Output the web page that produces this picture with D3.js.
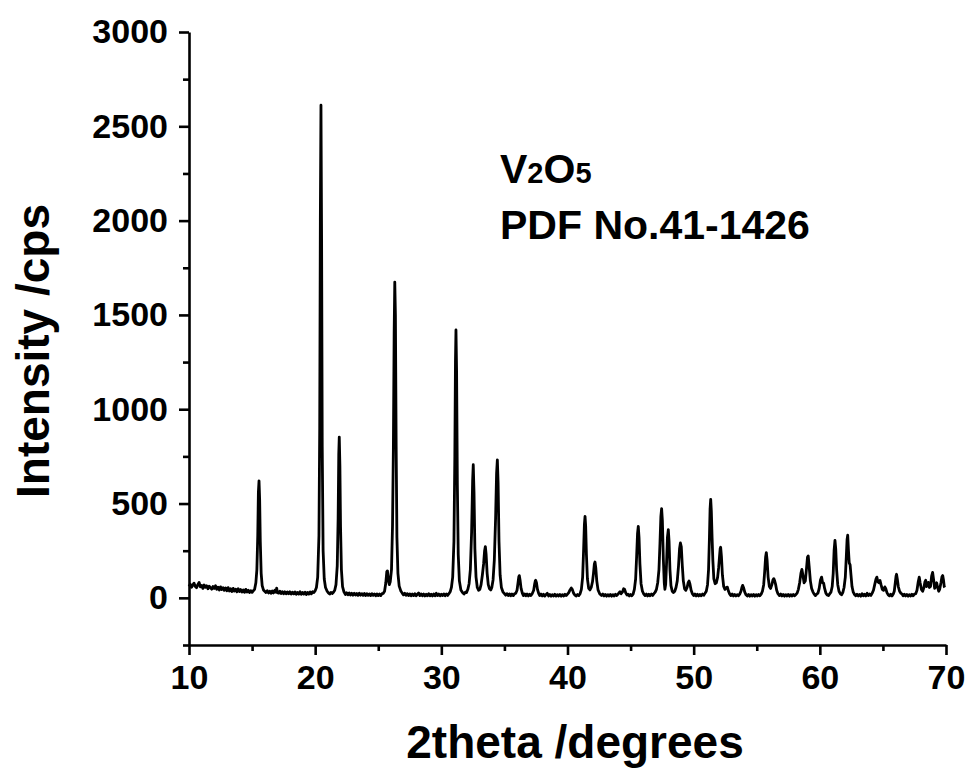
<!DOCTYPE html>
<html>
<head>
<meta charset="utf-8">
<script src="https://cdn.jsdelivr.net/npm/d3@7"></script>
<style>
  body { margin: 0; background: #fff; }
  svg { display: block; }
  text { font-family: "Liberation Sans", Arial, Helvetica, sans-serif; font-weight: bold; fill: #000; }
</style>
</head>
<body>
<svg id="chart" width="966" height="769"></svg>
<script>
// Axis ticks
const xTicks = [10, 20, 30, 40, 50, 60, 70];
const xMinorTicks = [15, 25, 35, 45, 55, 65];
const yTicks = [0, 500, 1000, 1500, 2000, 2500, 3000];
const yMinorTicks = [-250, 250, 750, 1250, 1750, 2250, 2750];

// Titles and phase label
const xTitle = "2theta /degrees";
const yTitle = "Intensity /cps";
const phaseFormula = [["V", false], ["2", true], ["O", false], ["5", true]];
const phaseCard = "PDF No.41-1426";

// XRD scan: [2theta (deg), intensity (cps)]
const scan = [
  [10.0,60],[10.1,72],[10.2,56],[10.3,68],[10.4,78],[10.5,60],[10.6,54],[10.7,70],[10.8,82],[10.9,58],
  [11.0,66],[11.1,50],[11.2,68],[11.3,56],[11.4,64],[11.5,48],[11.6,62],[11.7,54],[11.8,46],[11.9,60],
  [12.0,50],[12.1,64],[12.2,45],[12.3,56],[12.4,42],[12.5,58],[12.6,44],[12.7,54],[12.8,40],[12.9,52],
  [13.0,38],[13.1,54],[13.2,36],[13.3,48],[13.4,34],[13.5,50],[13.6,36],[13.7,46],[13.8,32],[13.9,48],
  [14.0,34],[14.1,44],[14.2,31],[14.3,42],[14.4,29],[14.5,45],[14.6,31],[14.7,40],[14.8,28],[14.9,38],
  [15.0,29],[15.1,38],
  [15.2,45],[15.3,80],[15.38,150],[15.45,330],[15.5,560],[15.55,620],[15.6,520],[15.65,300],[15.72,130],
  [15.8,65],[15.9,42],[16.0,35],
  [16.1,28],[16.2,38],[16.3,26],[16.4,35],[16.5,24],[16.6,36],[16.7,26],[16.8,40],[16.9,30],[16.95,52],
  [17.0,28],[17.1,25],[17.2,35],[17.3,23],[17.4,33],[17.5,22],[17.6,32],[17.7,21],[17.8,31],[17.9,22],
  [18.0,32],[18.1,20],[18.2,30],[18.3,21],[18.4,31],[18.5,19],[18.6,29],[18.7,20],[18.8,32],[18.9,19],
  [19.0,29],[19.1,20],[19.2,30],[19.3,18],[19.4,29],[19.5,20],[19.6,31],[19.7,21],[19.8,32],[19.9,28],
  [20.0,38],[20.1,55],[20.2,110],[20.3,330],[20.36,900],[20.41,2000],[20.46,2612],[20.51,1900],[20.56,800],
  [20.63,250],[20.72,100],[20.82,55],[20.95,35],
  [21.05,26],[21.15,20],[21.25,29],[21.35,23],[21.45,30],[21.55,40],
  [21.65,70],[21.75,170],[21.82,420],[21.87,760],[21.91,852],[21.96,700],[22.01,380],[22.08,150],
  [22.17,60],[22.28,32],
  [22.4,18],[22.5,27],[22.6,16],[22.7,26],[22.8,15],[22.9,24],[23.0,14],[23.1,24],[23.2,15],[23.3,23],
  [23.4,13],[23.5,24],[23.6,14],[23.7,22],[23.8,13],[23.9,23],[24.0,12],[24.1,22],[24.2,13],[24.3,21],
  [24.4,12],[24.5,22],[24.6,13],[24.7,20],[24.8,11],[24.9,21],[25.0,12],[25.1,20],[25.2,12],[25.3,22],
  [25.4,24],
  [25.5,35],[25.6,80],[25.68,140],[25.73,143],[25.8,95],[25.88,70],[25.95,85],[26.05,150],[26.13,380],
  [26.2,800],[26.26,1400],[26.31,1674],[26.36,1500],[26.42,800],[26.48,320],[26.56,130],[26.66,62],
  [26.78,38],[26.9,25],
  [27.0,16],[27.1,24],[27.2,13],[27.3,22],[27.4,12],[27.5,21],[27.6,11],[27.7,20],[27.8,12],[27.9,22],
  [28.0,11],[28.1,19],[28.2,26],[28.3,12],[28.4,21],[28.5,11],[28.6,20],[28.7,10],[28.8,19],[28.9,11],
  [29.0,22],[29.1,11],[29.2,19],[29.3,10],[29.4,21],[29.5,11],[29.6,24],[29.7,12],[29.8,20],[29.9,11],
  [30.0,19],[30.1,12],[30.2,21],[30.3,11],[30.4,20],[30.5,13],[30.6,22],
  [30.7,32],[30.8,55],[30.9,110],[31.0,300],[31.07,750],[31.12,1250],[31.16,1420],[31.21,1200],
  [31.27,600],[31.34,230],[31.43,90],[31.55,42],[31.68,28],
  [31.8,20],[31.9,30],[32.0,28],[32.1,45],
  [32.2,75],[32.3,150],[32.4,350],[32.48,620],[32.53,706],[32.59,560],[32.66,260],[32.75,110],
  [32.85,55],[32.95,40],[33.05,45],[33.15,70],[33.25,120],
  [33.35,180],[33.43,250],[33.49,272],[33.55,230],[33.63,130],[33.72,70],[33.82,48],[33.92,42],
  [34.0,55],[34.1,95],[34.2,200],
  [34.3,420],[34.38,660],[34.44,732],[34.5,610],[34.57,300],[34.66,120],[34.76,55],[34.88,32],[35.0,22],
  [35.1,14],[35.2,22],[35.3,12],[35.4,21],[35.5,11],[35.6,20],[35.7,12],[35.8,21],[35.9,24],
  [36.0,40],[36.08,80],[36.14,112],[36.18,118],[36.24,95],[36.32,50],[36.42,25],
  [36.5,12],[36.6,21],[36.7,11],[36.8,20],[36.9,10],[37.0,19],[37.1,12],[37.2,22],
  [37.32,40],[37.4,75],[37.45,90],[37.48,93],[37.54,80],[37.62,45],[37.72,22],
  [37.8,12],[37.9,20],[38.0,10],[38.1,19],[38.2,9],[38.3,18],[38.4,24],[38.5,10],[38.6,18],[38.7,9],
  [38.8,17],[38.9,10],[39.0,19],[39.1,9],[39.2,17],[39.3,10],[39.4,18],[39.5,9],[39.6,17],[39.7,10],
  [39.8,19],[39.9,12],[40.0,20],
  [40.1,28],[40.2,42],[40.3,52],[40.38,45],[40.48,25],[40.58,15],
  [40.7,10],[40.8,18],[40.9,12],[41.0,22],
  [41.1,45],[41.2,110],[41.28,260],[41.34,390],[41.39,432],[41.44,380],[41.5,230],[41.58,100],
  [41.68,50],[41.78,42],[41.88,55],[41.98,85],
  [42.06,130],[42.13,180],[42.18,190],[42.24,160],[42.32,90],[42.42,42],[42.55,22],
  [42.7,12],[42.8,20],[42.9,10],[43.0,18],[43.1,9],[43.2,17],[43.3,10],[43.4,18],[43.5,9],[43.6,17],
  [43.7,10],[43.8,19],[43.9,12],[44.0,20],
  [44.1,28],[44.16,32],[44.25,22],[44.35,30],[44.45,48],[44.52,46],[44.62,26],[44.72,15],
  [44.8,19],[44.9,10],[45.0,18],[45.1,11],[45.2,20],
  [45.3,45],[45.4,100],[45.48,220],[45.55,340],[45.61,379],[45.67,320],[45.74,180],[45.83,75],
  [45.94,35],[46.05,20],
  [46.15,12],[46.25,20],[46.35,10],[46.45,19],[46.55,11],[46.65,20],[46.75,13],[46.85,22],[46.95,30],
  [47.05,45],[47.15,80],[47.25,150],[47.33,290],[47.4,430],[47.46,473],[47.52,410],[47.6,200],
  [47.67,80],[47.72,45],[47.78,70],[47.85,180],[47.92,320],[47.99,362],[48.05,300],[48.12,150],
  [48.2,65],[48.3,35],[48.4,28],[48.5,35],[48.6,55],[48.7,90],[48.8,170],[48.88,260],[48.95,291],
  [49.02,270],[49.1,170],[49.18,90],[49.28,48],[49.38,40],[49.48,55],[49.56,80],[49.63,89],[49.7,75],
  [49.8,40],[49.9,22],
  [50.0,12],[50.1,20],[50.2,10],[50.3,19],[50.4,10],[50.5,18],[50.6,11],[50.7,20],[50.8,14],[50.9,24],
  [51.0,35],
  [51.1,70],[51.18,150],[51.25,320],[51.3,470],[51.35,522],[51.4,460],[51.46,320],[51.52,200],
  [51.6,100],[51.7,75],[51.8,80],[51.9,110],[51.98,160],[52.05,220],[52.1,260],[52.14,268],[52.2,220],
  [52.28,120],[52.38,60],[52.48,45],[52.58,55],[52.67,57],[52.76,35],[52.86,20],
  [52.95,12],[53.05,20],[53.15,10],[53.25,18],[53.35,10],[53.45,17],[53.55,11],[53.65,20],[53.75,35],
  [53.82,55],[53.88,66],[53.95,55],[54.05,30],[54.15,16],
  [54.25,10],[54.35,18],[54.45,9],[54.55,17],[54.65,10],[54.75,18],[54.85,9],[54.95,17],[55.05,10],
  [55.15,18],[55.25,11],[55.35,20],[55.45,35],
  [55.55,70],[55.63,140],[55.7,215],[55.76,240],[55.82,200],[55.9,110],[56.0,60],[56.1,50],[56.2,70],
  [56.28,95],[56.35,102],[56.42,90],[56.5,70],[56.58,40],[56.68,22],
  [56.8,12],[56.9,20],[57.0,10],[57.1,18],[57.2,9],[57.3,17],[57.4,10],[57.5,18],[57.6,9],[57.7,17],
  [57.8,10],[57.9,18],[58.0,11],[58.1,18],[58.2,25],[58.3,45],
  [58.4,80],[58.5,130],[58.58,151],[58.66,120],[58.75,80],[58.85,90],[58.95,160],[59.02,215],[59.08,222],
  [59.15,170],[59.25,90],[59.35,50],[59.45,32],[59.55,20],
  [59.65,12],[59.75,20],[59.85,25],
  [59.95,50],[60.05,95],[60.14,110],[60.22,80],[60.3,78],[60.38,50],[60.48,25],[60.58,15],
  [60.68,12],[60.78,21],[60.88,30],
  [60.98,60],[61.06,130],[61.13,250],[61.2,305],[61.26,260],[61.33,150],[61.42,70],[61.52,35],[61.62,22],
  [61.72,16],[61.82,28],
  [61.92,55],[62.02,110],[62.1,220],[62.16,310],[62.21,332],[62.27,250],[62.33,185],[62.4,175],
  [62.47,120],[62.55,60],[62.65,30],[62.75,18],
  [62.85,11],[62.95,19],[63.05,10],[63.15,18],[63.25,9],[63.35,22],[63.45,11],[63.55,19],[63.65,10],
  [63.75,24],[63.85,12],[63.95,20],[64.05,13],[64.15,25],[64.25,40],
  [64.35,70],[64.45,100],[64.52,110],[64.6,85],[64.68,80],[64.77,92],[64.85,70],[64.95,45],[65.05,40],
  [65.15,58],[65.22,50],[65.32,28],[65.42,16],
  [65.52,11],[65.62,19],[65.72,10],[65.82,20],[65.9,35],
  [65.98,80],[66.04,115],[66.08,125],[66.14,100],[66.22,60],[66.32,35],[66.42,25],[66.52,20],
  [66.6,11],[66.7,19],[66.8,10],[66.9,18],[67.0,9],[67.1,17],[67.2,10],[67.3,19],[67.4,11],[67.5,20],
  [67.6,22],[67.7,40],
  [67.8,85],[67.88,110],[67.95,80],[68.05,45],[68.15,35],[68.25,55],[68.33,85],[68.39,93],[68.46,60],
  [68.53,70],[68.6,82],[68.68,55],[68.77,60],[68.86,115],[68.94,135],[69.02,95],[69.1,50],[69.18,60],
  [69.26,80],[69.34,55],[69.42,35],[69.5,45],[69.6,80],[69.68,112],[69.74,118],[69.8,95],[69.86,60],
  [69.9,55]
];

const svg = d3.select("#chart");

const x = d3.scaleLinear().domain([10, 70]).range([189, 946]);
const y = d3.scaleLinear().domain([-250, 3000]).range([645, 32]);

const axisStroke = 2.6;

// Minor ticks (no labels)
svg.append("g")
  .attr("transform", `translate(0,${y(-250)})`)
  .call(d3.axisBottom(x).tickValues(xMinorTicks).tickSize(6).tickFormat(""))
  .call(g => g.select(".domain").remove())
  .call(g => g.selectAll("line").attr("stroke", "#000").attr("stroke-width", axisStroke));

svg.append("g")
  .attr("transform", `translate(${x(10)},0)`)
  .call(d3.axisLeft(y).tickValues(yMinorTicks).tickSize(6).tickFormat(""))
  .call(g => g.select(".domain").remove())
  .call(g => g.selectAll("line").attr("stroke", "#000").attr("stroke-width", axisStroke));

// Major axes
const xAxis = svg.append("g")
  .attr("transform", `translate(0,${y(-250)})`)
  .call(d3.axisBottom(x).tickValues(xTicks).tickSize(10).tickSizeOuter(0).tickPadding(10).tickFormat(d3.format("d")));
xAxis.select(".domain").attr("stroke", "#000").attr("stroke-width", axisStroke);
xAxis.selectAll(".tick line").attr("stroke", "#000").attr("stroke-width", axisStroke);
xAxis.selectAll(".tick text")
  .attr("font-size", 34).attr("font-family", null).attr("fill", "#000");

const yAxis = svg.append("g")
  .attr("transform", `translate(${x(10)},0)`)
  .call(d3.axisLeft(y).tickValues(yTicks).tickSize(10).tickSizeOuter(0).tickPadding(11).tickFormat(d3.format("d")));
yAxis.select(".domain").attr("stroke", "#000").attr("stroke-width", axisStroke);
yAxis.selectAll(".tick line").attr("stroke", "#000").attr("stroke-width", axisStroke);
yAxis.selectAll(".tick text")
  .attr("font-size", 34).attr("font-family", null).attr("fill", "#000");

// Diffraction trace
const line = d3.line().x(d => x(d[0])).y(d => y(d[1]));
svg.append("path")
  .datum(scan)
  .attr("d", line)
  .attr("fill", "none")
  .attr("stroke", "#000")
  .attr("stroke-width", 2.8)
  .attr("stroke-linejoin", "round");

// Axis titles
svg.append("text")
  .attr("x", 575).attr("y", 758)
  .attr("text-anchor", "middle")
  .attr("font-size", 46)
  .text(xTitle);

svg.append("text")
  .attr("transform", "translate(49,351) rotate(-90)")
  .attr("text-anchor", "middle")
  .attr("font-size", 46)
  .text(yTitle);

// Phase label
const formula = svg.append("text")
  .attr("x", 500).attr("y", 183)
  .attr("font-size", 41);
phaseFormula.forEach(([s, sub]) => {
  formula.append("tspan")
    .attr("font-size", sub ? 29 : 41)
    .text(s);
});

svg.append("text")
  .attr("x", 500).attr("y", 239)
  .attr("font-size", 41)
  .text(phaseCard);
</script>
</body>
</html>
